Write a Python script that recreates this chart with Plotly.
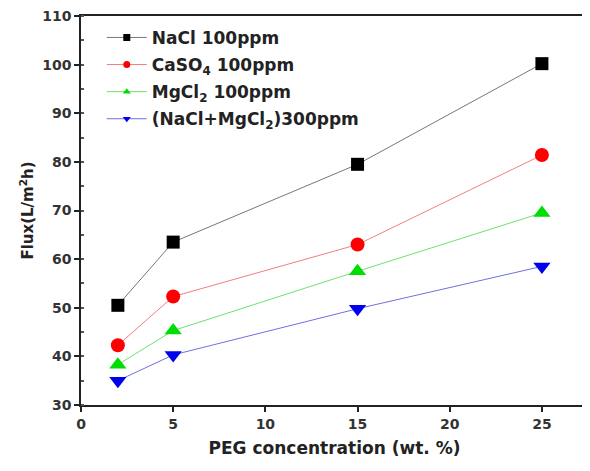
import plotly.graph_objects as go

peg = [2, 5, 15, 25]
nacl = [50.5, 63.5, 79.5, 100.2]
caso4 = [42.3, 52.3, 63.0, 81.4]
mgcl2 = [38.3, 45.3, 57.5, 69.5]
mix = [35.0, 40.3, 49.8, 58.5]

names = ["NaCl 100ppm", "CaSO<sub>4</sub> 100ppm", "MgCl<sub>2</sub> 100ppm", "(NaCl+MgCl<sub>2</sub>)300ppm"]
series = [nacl, caso4, mgcl2, mix]
mcolors = ["#000000", "#ff0000", "#00dd00", "#0000ee"]
lcolors = ["#777777", "#f08080", "#70e070", "#7070e0"]
symbols = ["square", "circle", "triangle-up", "triangle-down"]
sizes = [13, 14, 15, 15]

fig = go.Figure()
for i, (n, s, mc, lc, sym, sz) in enumerate(zip(names, series, mcolors, lcolors, symbols, sizes)):
    fig.add_trace(go.Scatter(x=peg, y=s, name=n, mode="lines+markers", legendgroup=f"g{i}",
                             showlegend=False,
                             line=dict(color=lc, width=1),
                             marker=dict(color=mc, symbol=sym, size=sz)))
    # legend-only entry with small marker
    fig.add_trace(go.Scatter(x=[None], y=[None], name=n, mode="lines+markers", legendgroup=f"g{i}",
                             line=dict(color=lc, width=1),
                             marker=dict(color=mc, symbol=sym, size=7)))

tfont = dict(family="DejaVu Sans", size=14, color="#333", weight="bold")
axis_common = dict(showline=True, linecolor="#222", linewidth=1.5, mirror=True,
                   ticks="outside", ticklen=5, tickcolor="#222", tickwidth=1.5, showgrid=False,
                   zeroline=False, tickfont=tfont, automargin=False, ticklabeloverflow="allow")
fig.update_xaxes(range=[0, 27.5], tickvals=[0, 5, 10, 15, 20, 25],
                 title=dict(text="<b>PEG concentration (wt. %)</b>",
                            font=dict(family="DejaVu Sans", size=17, color="#222"), standoff=12),
                 **axis_common)
fig.update_yaxes(range=[30, 110], tickvals=[30, 40, 50, 60, 70, 80, 90, 100, 110],
                 title=dict(text="<b>Flux(L/m<sup>2</sup>h)</b>",
                            font=dict(family="DejaVu Sans", size=15, color="#222"), standoff=5),
                 minor=dict(dtick=5, ticks="inside", ticklen=3, tickcolor="#555"), **axis_common)
fig.update_layout(width=582, height=455, margin=dict(l=73, r=2, t=8, b=58),
                  plot_bgcolor="white", paper_bgcolor="white",
                  font=dict(family="DejaVu Sans", color="#222"),
                  legend=dict(x=0.041, y=0.99, xanchor="left", yanchor="top", itemwidth=40,
                              bgcolor="rgba(0,0,0,0)", tracegroupgap=2,
                              font=dict(family="DejaVu Sans", size=17, color="#222", weight="bold")))
fig.write_html("out.html")
